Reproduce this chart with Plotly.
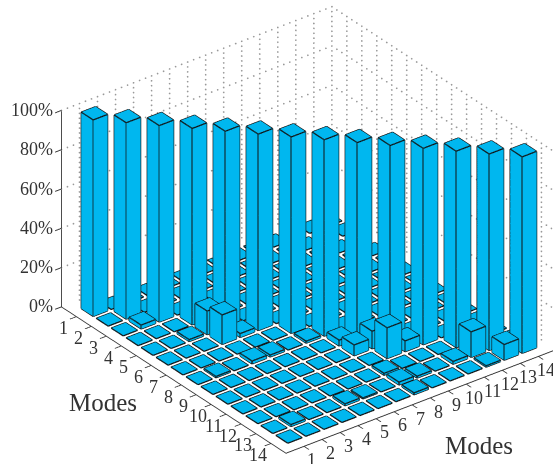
import plotly.graph_objects as go

modes = list(range(1, 15))
diagonal = [100, 100, 100, 100, 100, 100, 100, 100, 100, 100, 100, 100, 100, 100]
off_x = [4, 4, 8, 8, 9, 9, 10, 12, 13, 2, 3, 4, 5, 2, 2, 5, 7, 11, 12, 8, 9, 8, 8, 5, 6]
off_y = [6, 5, 10, 9, 11, 10, 11, 13, 14, 3, 5, 8, 8, 8, 13, 6, 8, 13, 14, 13, 13, 12, 14, 13, 13]
off_v = [15, 12, 5.5, 3, 15.7, 9, 5.5, 13, 8, 2, 1, 1.5, 1, 0.7, 1, 2, 1, 1.5, 0.7, 1.5, 1, 1, 1, 1, 0.5]
z_ticks = [0, 20, 40, 60, 80, 100]
z_labels = ["0%", "20%", "40%", "60%", "80%", "100%"]

BAR = "#00B7EF"
W = 0.4
heights = {(m, m): v for m, v in zip(modes, diagonal)}
for a, b, v in zip(off_x, off_y, off_v):
    heights[(a, b)] = v

vx, vy, vz, ti, tj, tk = [], [], [], [], [], []
ex, ey, ez = [], [], []
FACES = [(0,1,2),(0,2,3),(4,5,6),(4,6,7),(0,1,5),(0,5,4),(1,2,6),(1,6,5),(2,3,7),(2,7,6),(3,0,4),(3,4,7)]
EDGES = [(4,5),(5,6),(6,7),(7,4),(0,4),(1,5),(2,6),(3,7),(0,1),(1,2),(2,3),(3,0)]
for a in modes:
    for b in modes:
        h = heights.get((a, b), 0)
        n = len(vx)
        for zz in (0, h):
            for dx, dy in ((-W,-W),(W,-W),(W,W),(-W,W)):
                vx.append(a+dx); vy.append(b+dy); vz.append(zz)
        for f in FACES:
            ti.append(n+f[0]); tj.append(n+f[1]); tk.append(n+f[2])
        for e in EDGES:
            for p in e:
                ex.append(vx[n+p]); ey.append(vy[n+p]); ez.append(vz[n+p])
            ex.append(None); ey.append(None); ez.append(None)

# dotted grid on the two back walls
gx, gy, gz = [], [], []
def dots(p, q, count):
    for s in range(count + 1):
        gx.append(p[0] + (q[0]-p[0])*s/count)
        gy.append(p[1] + (q[1]-p[1])*s/count)
        gz.append(p[2] + (q[2]-p[2])*s/count)
for m in modes:
    dots((m,0,0),(m,0,100),40); dots((15,m,0),(15,m,100),40)
for t in z_ticks[1:]:
    dots((0,0,t),(15,0,t),45); dots((15,0,t),(15,15,t),45)
dots((15,0,0),(15,0,100),40); dots((15,15,0),(15,15,100),40)

fig = go.Figure()
fig.add_trace(go.Scatter3d(x=gx, y=gy, z=gz, mode="markers", marker=dict(color="#999999", size=1, line=dict(width=0)), hoverinfo="skip", showlegend=False))
fig.add_trace(go.Mesh3d(x=vx, y=vy, z=vz, i=ti, j=tj, k=tk, color=BAR, flatshading=True,
                        lighting=dict(ambient=1, diffuse=0, specular=0, fresnel=0), hoverinfo="skip", showscale=False))
fig.add_trace(go.Scatter3d(x=ex, y=ey, z=ez, mode="lines", line=dict(color="#111111", width=2.5), hoverinfo="skip", showlegend=False))

TXT = "#333333"
font = dict(family="Liberation Serif", size=18, color=TXT)
def ax(rng, vals):
    return dict(range=rng, tickvals=vals, showticklabels=False, showgrid=False, zeroline=False, showbackground=False,
                showline=True, linecolor=TXT, linewidth=2, ticks="outside", ticklen=8, tickwidth=2, tickcolor=TXT,
                title=dict(text=""), showspikes=False)
notes = []
for m in modes:
    notes.append(dict(x=m, y=15, z=0, text=str(m), showarrow=False, xanchor="center", yanchor="middle", xshift=8, yshift=-13.7, font=font))
    notes.append(dict(x=0, y=m, z=0, text=str(m), showarrow=False, xanchor="center", yanchor="middle", xshift=-13, yshift=-11.7, font=font))
for t, lab in zip(z_ticks, z_labels):
    notes.append(dict(x=0, y=0, z=t, text=lab, showarrow=False, xanchor="right", yanchor="middle", xshift=-6.5, yshift=0.5, font=font))

EYE = 2.0
SCALE = 1.59
CX, CY, CZ = -0.1135, 0.0816, -0.0076
scene = dict(
    xaxis=ax([0, 15], modes),
    yaxis=ax([15, 0], modes),
    zaxis=ax([0, 100], z_ticks),
    aspectmode="manual", aspectratio=dict(x=0.924*SCALE, y=1*SCALE, z=0.615*SCALE),
    camera=dict(projection=dict(type="orthographic"), eye=dict(x=-0.527*EYE+CX, y=-0.687*EYE+CY, z=0.5*EYE+CZ),
                center=dict(x=CX, y=CY, z=CZ), up=dict(x=0, y=0, z=1)),
    domain=dict(x=[0, 1], y=[0, 1]),
    annotations=notes,
)
title_font = dict(family="Liberation Serif", size=25, color=TXT)
fig.update_layout(width=553, height=464, margin=dict(l=0, r=0, t=0, b=0), paper_bgcolor="white", scene=scene,
    annotations=[
        dict(text="Modes", x=103/553, y=1-402.5/464, xref="paper", yref="paper", xanchor="center", yanchor="middle", showarrow=False, font=title_font),
        dict(text="Modes", x=479/553, y=1-445.5/464, xref="paper", yref="paper", xanchor="center", yanchor="middle", showarrow=False, font=title_font),
    ])
fig.write_html("out.html", config={"displayModeBar": False},
               post_script="document.body.style.margin='0';document.documentElement.style.overflow='hidden';")
